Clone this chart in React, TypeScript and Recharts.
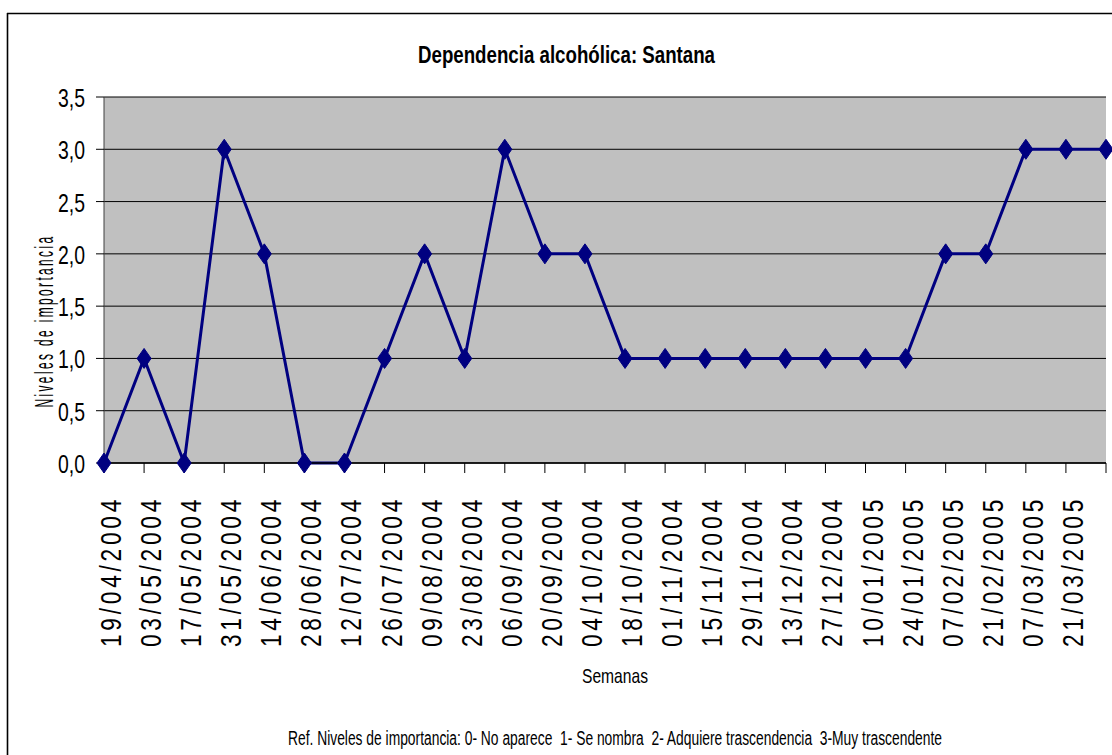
import React from 'react';
import { LineChart, Line, XAxis, YAxis, CartesianGrid, Label } from 'recharts';

const weeks = [
  '19/04/2004', '03/05/2004', '17/05/2004', '31/05/2004', '14/06/2004', '28/06/2004',
  '12/07/2004', '26/07/2004', '09/08/2004', '23/08/2004', '06/09/2004', '20/09/2004',
  '04/10/2004', '18/10/2004', '01/11/2004', '15/11/2004', '29/11/2004', '13/12/2004',
  '27/12/2004', '10/01/2005', '24/01/2005', '07/02/2005', '21/02/2005', '07/03/2005',
  '21/03/2005', '',
];
const levels = [0, 1, 0, 3, 2, 0, 0, 1, 2, 1, 3, 2, 2, 1, 1, 1, 1, 1, 1, 1, 1, 2, 2, 3, 3, 3];
const yTicks = [0, 0.5, 1, 1.5, 2, 2.5, 3, 3.5];

const titleText = 'Dependencia alcohólica: Santana';
const yLabelText = 'Niveles de importancia';
const xLabelText = 'Semanas';
const noteText = 'Ref. Niveles de importancia: 0- No aparece  1- Se nombra  2- Adquiere trascendencia  3-Muy trascendente';

const data = weeks.map((w, i) => ({ week: w, nivel: levels[i] }));

const FONT = '"Liberation Sans", Arial, sans-serif';

const XTick = (props: any) => {
  const { x, payload } = props;
  if (!payload || !payload.value) return null;
  return (
    <text
      transform={`translate(${x + 17},496) rotate(-90)`}
      textAnchor="end"
      fontSize={30}
      fontFamily={FONT}
      fill="#000"
      letterSpacing={5}
      textLength={151}
      lengthAdjust="spacingAndGlyphs"
    >
      {payload.value}
    </text>
  );
};

const YTick = (props: any) => {
  const { y, payload } = props;
  return (
    <text
      x={85}
      y={y + 10}
      textAnchor="end"
      fontSize={25}
      fontFamily={FONT}
      fill="#000"
      textLength={27}
      lengthAdjust="spacingAndGlyphs"
    >
      {Number(payload.value).toFixed(1).replace('.', ',')}
    </text>
  );
};

const Diamond = (props: any) => {
  const { cx, cy, index } = props;
  if (cx == null || cy == null) return <g key={`d${index}`} />;
  return (
    <polygon
      key={`d${index}`}
      points={`${cx},${cy - 10} ${cx + 7},${cy} ${cx},${cy + 10} ${cx - 7},${cy}`}
      fill="#000080"
      stroke="#000080"
    />
  );
};

export default function App() {
  return (
    <div style={{ position: 'fixed', left: 0, top: 0, width: 1112, height: 755, background: '#fff', overflow: 'hidden' }}>
      <div style={{ position: 'absolute', left: 0, top: 0 }}>
        <LineChart
          width={1112}
          height={755}
          data={data}
          margin={{ top: 97, right: 6, left: 0, bottom: 0 }}
        >
          <CartesianGrid vertical={false} fill="#C0C0C0" fillOpacity={1} stroke="#000" strokeWidth={1} />
          <XAxis
            dataKey="week"
            height={292}
            interval={0}
            tick={<XTick />}
            tickSize={10}
            tickLine={{ stroke: '#000' }}
            axisLine={{ stroke: '#000', strokeWidth: 1.5 }}
          >
            <Label
              content={() => (
                <text
                  x={615}
                  y={683}
                  textAnchor="middle"
                  fontSize={21}
                  fontFamily={FONT}
                  fill="#000"
                  textLength={66}
                  lengthAdjust="spacingAndGlyphs"
                >
                  {xLabelText}
                </text>
              )}
            />
          </XAxis>
          <YAxis
            width={104}
            domain={[0, 3.5]}
            ticks={yTicks}
            interval={0}
            tick={<YTick />}
            tickSize={8}
            tickLine={{ stroke: '#000' }}
            axisLine={{ stroke: '#404040' }}
          >
            <Label
              content={() => (
                <text
                  transform="translate(53,321) rotate(-90)"
                  textAnchor="middle"
                  fontSize={25}
                  fontFamily={FONT}
                  fill="#000"
                  letterSpacing={5}
                  textLength={173}
                  lengthAdjust="spacingAndGlyphs"
                >
                  {yLabelText}
                </text>
              )}
            />
          </YAxis>
          <Line
            type="linear"
            dataKey="nivel"
            stroke="#000080"
            strokeWidth={3}
            dot={(p: any) => <Diamond key={`dot-${p.index}`} {...p} />}
            activeDot={false}
            isAnimationActive={false}
          />
        </LineChart>
      </div>
      <svg width={1112} height={755} style={{ position: 'absolute', left: 0, top: 0, pointerEvents: 'none' }}>
        <line x1={7.5} y1={13} x2={7.5} y2={755} stroke="#000" strokeWidth={1.6} />
        <line x1={7} y1={13.5} x2={1112} y2={13.5} stroke="#000" strokeWidth={1.6} />
        <text
          x={566.5}
          y={63}
          textAnchor="middle"
          fontSize={23}
          fontWeight="bold"
          fontFamily={FONT}
          fill="#000"
          textLength={297}
          lengthAdjust="spacingAndGlyphs"
        >
          {titleText}
        </text>
        <text
          x={615}
          y={745}
          textAnchor="middle"
          fontSize={20}
          fontFamily={FONT}
          fill="#000"
          textLength={654}
          lengthAdjust="spacingAndGlyphs"
          style={{ whiteSpace: 'pre' }}
        >
          {noteText}
        </text>
      </svg>
    </div>
  );
}
